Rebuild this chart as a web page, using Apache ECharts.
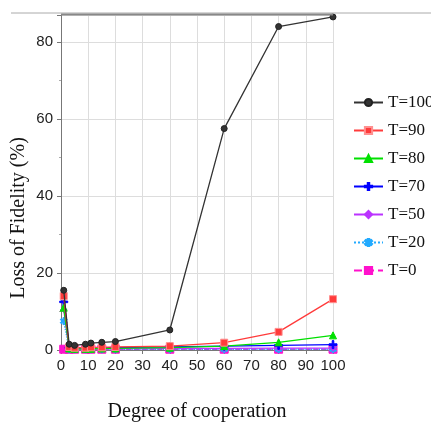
<!DOCTYPE html>
<html><head><meta charset="utf-8">
<script src="https://cdn.jsdelivr.net/npm/echarts@6/dist/echarts.min.js"></script>
<style>html,body{margin:0;padding:0;background:#fff}#c{width:431px;height:427px}</style>
</head><body><div id="c"></div>
<script>
const xs = [1, 3, 5, 9, 11, 15, 20, 40, 60, 80, 100];
const names = ['T=100', 'T=90', 'T=80', 'T=70', 'T=50', 'T=20', 'T=0'];
const t100 = [15.5, 1.5, 1.2, 1.5, 1.8, 2.0, 2.2, 5.2, 57.5, 84, 86.5];
const t90 = [14, 0.8, 0.6, 0.6, 0.7, 0.7, 0.8, 1.0, 1.9, 4.7, 13.2];
const t80 = [11, 0.4, 0.3, 0.3, 0.3, 0.4, 0.4, 0.6, 1.0, 2.0, 3.8];
const t70 = [12.5, 0.6, 0.5, 0.5, 0.6, 0.6, 0.6, 0.8, 1.0, 1.2, 1.4];
const t50 = [10.5, 0.3, 0.3, 0.3, 0.3, 0.3, 0.3, 0.4, 0.4, 0.5, 0.5];
const t20 = [7.5, 0.2, 0.2, 0.2, 0.2, 0.2, 0.2, 0.2, 0.2, 0.2, 0.2];
const t0 = [0.2, 0.2, 0.2, 0.2, 0.2, 0.2, 0.2, 0.2, 0.2, 0.2, 0.2];
const yTicks = [0, 20, 40, 60, 80];
const yTitle = 'Loss of Fidelity (%)';
const xTitle = 'Degree of cooperation';

const pair = arr => xs.map((x, i) => [x, arr[i]]);
const plus = 'path://M4,0H6V4H10V6H6V10H4V6H0V4H4Z';
const star = 'path://M4,0H6V3L8.5,1.5L9.5,3L7,5L9.5,7L8.5,8.5L6,7V10H4V7L1.5,8.5L0.5,7L3,5L0.5,3L1.5,1.5L4,3Z';
function s(name, data, color, symbol, size, type, border) {
  return {
    name, type: 'line', data: pair(data), symbol, symbolSize: size,
    lineStyle: {color, width: 1.3, type: type || 'solid'},
    itemStyle: {color, borderColor: border || color, borderWidth: 1},
    z: 10 - names.indexOf(name)
  };
}
const chart = echarts.init(document.getElementById('c'));
chart.setOption({
  animation: false,
  backgroundColor: '#fff',
  grid: {left: 61, right: 98, top: 15, bottom: 73},
  xAxis: {
    type: 'value', min: 0, max: 100, interval: 10,
    name: xTitle, nameLocation: 'middle', nameGap: 52,
    nameTextStyle: {fontFamily: 'Liberation Serif', fontSize: 20, color: '#111'},
    axisLine: {show: true, lineStyle: {color: '#777'}},
    axisTick: {show: true, length: 4, lineStyle: {color: '#777'}},
    axisLabel: {fontFamily: 'Liberation Sans Narrow, Liberation Sans', fontSize: 15, color: '#222', margin: 8},
    splitLine: {show: true, lineStyle: {color: '#ddd', width: 1}}
  },
  yAxis: {
    type: 'value', min: 0, max: 87, interval: 20,
    axisLine: {show: true, lineStyle: {color: '#777'}},
    axisTick: {show: true, length: 4, lineStyle: {color: '#777'}},
    minorTick: {show: true, splitNumber: 2, length: 2, lineStyle: {color: '#aaa'}},
    axisLabel: {fontFamily: 'Liberation Sans Narrow, Liberation Sans', fontSize: 15, color: '#222', margin: 8, showMaxLabel: false,
      formatter: v => yTicks.includes(v) ? String(v) : ''},
    splitLine: {show: true, lineStyle: {color: '#ddd', width: 1}}
  },
  legend: {
    orient: 'vertical', left: 348, top: 88, itemGap: 9, itemWidth: 29, itemHeight: 9,
    textStyle: {fontFamily: 'Liberation Serif', fontSize: 17, color: '#111', lineHeight: 19},
    data: names
  },
  graphic: [
    {type: 'line', shape: {x1: 11, y1: 13, x2: 431, y2: 13}, style: {stroke: '#aaa', lineWidth: 1}, z: 100},
    {type: 'line', shape: {x1: 61, y1: 14.5, x2: 333, y2: 14.5}, style: {stroke: '#888', lineWidth: 2}, z: 100},
    {type: 'text', x: 19, y: 218, rotation: Math.PI / 2,
      style: {text: yTitle, font: '20px "Liberation Serif"', fill: '#111', textAlign: 'center', textVerticalAlign: 'middle'}}
  ],
  series: [
    s('T=100', t100, '#333', 'circle', 6, 'solid', '#222'),
    s('T=90', t90, '#ff3b3b', 'rect', 7, 'solid', '#ff9090'),
    s('T=80', t80, '#00e000', 'triangle', 7),
    s('T=70', t70, '#0000ff', plus, 8),
    s('T=50', t50, '#bb33ff', 'diamond', 6),
    s('T=20', t20, '#22aaff', star, 7, 'dotted'),
    s('T=0', t0, '#ff11cc', 'rect', 8, 'dashed')
  ]
});
</script></body></html>
